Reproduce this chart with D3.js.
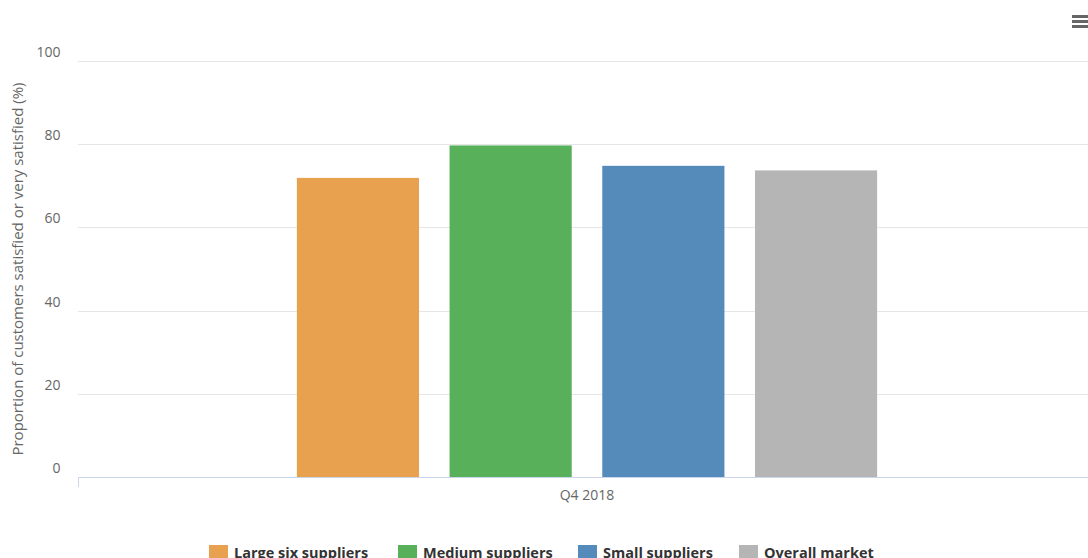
<!DOCTYPE html>
<html>
<head>
<meta charset="utf-8">
<script src="https://cdn.jsdelivr.net/npm/d3@7/dist/d3.min.js"></script>
<style>
  html, body { margin: 0; padding: 0; background: #fff; overflow: hidden; }
  svg { display: block; font-family: "Open Sans", "DejaVu Sans", sans-serif; }
</style>
</head>
<body>
<svg id="chart" width="1088" height="558"></svg>
<script>
// Customer satisfaction by supplier group
const categories = ["Q4 2018"];
const seriesNames = ["Large six suppliers", "Medium suppliers", "Small suppliers", "Overall market"];
const seriesColors = ["#e8a24f", "#58b05a", "#558bba", "#b5b5b5"];
const seriesValues = [[71.9], [79.7], [74.8], [73.7]];
const yTicks = [0, 20, 40, 60, 80, 100];
const yTitle = "Proportion of customers satisfied or very satisfied (%)";

const svg = d3.select("#chart");
const plot = { left: 78, right: 1096, top: 61, bottom: 477 };

const x0 = d3.scaleBand().domain(categories).range([plot.left, plot.right]).paddingInner(0).paddingOuter(0);
const y = d3.scaleLinear().domain([0, 100]).range([plot.bottom, plot.top]);

// Horizontal grid lines
svg.append("g").selectAll("line").data(yTicks.filter(d => d !== 0)).join("line")
  .attr("x1", plot.left).attr("x2", plot.right)
  .attr("y1", d => Math.round(y(d)) + 0.5).attr("y2", d => Math.round(y(d)) + 0.5)
  .attr("stroke", "#e6e6e6").attr("stroke-width", 1);

// Y tick labels
svg.append("g").selectAll("text").data(yTicks).join("text")
  .attr("x", 60.5).attr("y", d => y(d) - 4)
  .attr("text-anchor", "end")
  .attr("fill", "#666").attr("font-size", 14)
  .text(d => d);

// Y axis title
svg.append("text")
  .attr("transform", `translate(23,${(80 + 458) / 2}) rotate(-90)`)
  .attr("text-anchor", "middle")
  .attr("fill", "#666").attr("font-size", 15)
  .text(yTitle);

// Bars: grouped inside the single category
const groupPad = 0.2, pointPad = 0.1;
categories.forEach((cat, ci) => {
  const bw = x0.bandwidth();
  const gStart = x0(cat) + bw * groupPad;
  const gWidth = bw * (1 - 2 * groupPad);
  const x1 = d3.scaleBand().domain(seriesNames).range([gStart, gStart + gWidth]);
  svg.append("g").selectAll("rect").data(seriesNames).join("rect")
    .attr("x", s => x1(s) + x1.bandwidth() * pointPad)
    .attr("width", x1.bandwidth() * (1 - 2 * pointPad))
    .attr("y", (s, i) => y(seriesValues[i][ci]))
    .attr("height", (s, i) => y(0) - y(seriesValues[i][ci]))
    .attr("fill", (s, i) => seriesColors[i]);
});

// X axis line and category label
svg.append("line")
  .attr("x1", plot.left).attr("x2", plot.right)
  .attr("y1", plot.bottom + 0.5).attr("y2", plot.bottom + 0.5)
  .attr("stroke", "#ccd6eb");
x0.domain().forEach(c => {
  [x0(c), x0(c) + x0.bandwidth()].forEach(xx => {
    svg.append("line")
      .attr("x1", xx + 0.5).attr("x2", xx + 0.5)
      .attr("y1", plot.bottom).attr("y2", plot.bottom + 10)
      .attr("stroke", "#ccd6eb");
  });
  svg.append("text")
    .attr("x", x0(c) + x0.bandwidth() / 2).attr("y", 500)
    .attr("text-anchor", "middle").attr("fill", "#666").attr("font-size", 14)
    .text(c);
});

// Legend
const legendX = [209, 398, 578, 739];
const legend = svg.append("g");
seriesNames.forEach((name, i) => {
  legend.append("rect").attr("x", legendX[i]).attr("y", 545).attr("width", 19).attr("height", 16)
    .attr("fill", seriesColors[i]);
  legend.append("text").attr("x", legendX[i] + 25).attr("y", 557.5)
    .attr("fill", "#333").attr("font-size", 14.5).attr("font-weight", "bold")
    .text(name);
});

// Context menu icon
svg.append("g").selectAll("line").data([0, 1, 2]).join("line")
  .attr("x1", 1072).attr("x2", 1088)
  .attr("y1", d => 16.5 + d * 5).attr("y2", d => 16.5 + d * 5)
  .attr("stroke", "#666").attr("stroke-width", 3);
</script>
</body>
</html>
